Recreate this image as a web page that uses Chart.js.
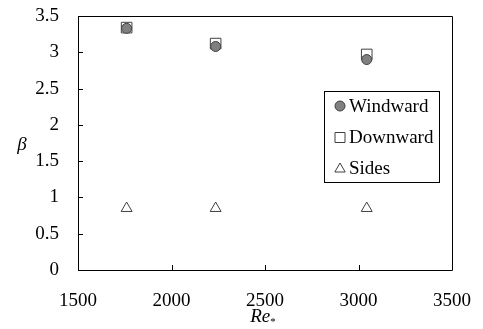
<!DOCTYPE html>
<html><head><meta charset="utf-8">
<script src="https://cdn.jsdelivr.net/npm/chart.js@4/dist/chart.umd.min.js"></script>
<style>html,body{margin:0;padding:0;background:#fff}#wrap{width:483px;height:329px}</style>
</head><body><div id="wrap"><canvas id="c" width="483" height="329"></canvas></div>
<script>
const reValues = [1760, 2236, 3044];
const windward = [3.33, 3.08, 2.90];
const downward = [3.34, 3.12, 2.97];
const sides = [0.85, 0.85, 0.85];
const seriesNames = ['Windward', 'Downward', 'Sides'];
const xTicks = [1500, 2000, 2500, 3000, 3500];
const yTicks = [0, 0.5, 1, 1.5, 2, 2.5, 3, 3.5];
const xTitle = 'Re';
const xTitleSub = '*';
const yTitle = 'β';

const FONT = "'Liberation Serif', 'Times New Roman', serif";
const pts = (ys) => reValues.map((x, i) => ({x: x, y: ys[i]}));

const styles = [
  {pointStyle: 'circle', pointRadius: 5, backgroundColor: '#808080', borderColor: '#404040'},
  {pointStyle: 'rect', pointRadius: 7.5, backgroundColor: '#ffffff', borderColor: '#404040'},
  {pointStyle: 'triangle', pointRadius: 6.3, backgroundColor: '#ffffff', borderColor: '#404040'}
];

const framePlugin = {
  id: 'frame',
  afterDraw(chart) {
    const ctx = chart.ctx, a = chart.chartArea;
    const xs = chart.scales.x, ys = chart.scales.y;
    ctx.save();
    ctx.strokeStyle = '#000';
    ctx.lineWidth = 1;
    ctx.beginPath();
    ctx.rect(Math.round(a.left) + 0.5, Math.round(a.top) + 0.5, Math.round(a.right - a.left), Math.round(a.bottom - a.top));
    ctx.stroke();
    ctx.beginPath();
    yTicks.forEach(v => {
      const py = Math.round(ys.getPixelForValue(v)) + 0.5;
      ctx.moveTo(a.left, py); ctx.lineTo(a.left + 5, py);
    });
    xTicks.forEach(v => {
      const px = Math.round(xs.getPixelForValue(v)) + 0.5;
      ctx.moveTo(px, a.bottom); ctx.lineTo(px, a.bottom - 5);
    });
    ctx.stroke();
    ctx.fillStyle = '#000';
    ctx.textBaseline = 'middle';
    ctx.textAlign = 'center';
    ctx.font = 'italic 19px ' + FONT;
    ctx.fillText(yTitle, 22, (a.top + a.bottom) / 2 + 2);
    const cx = (a.left + a.right) / 2;
    const w1 = ctx.measureText(xTitle).width;
    ctx.font = '11px ' + FONT;
    const w2 = ctx.measureText(xTitleSub).width;
    const startX = cx - (w1 + w2) / 2 - 2;
    ctx.textAlign = 'left';
    ctx.font = 'italic 19px ' + FONT;
    ctx.fillText(xTitle, startX, 317);
    ctx.font = '11px ' + FONT;
    ctx.fillText(xTitleSub, startX + w1, 322);
    const lx = 324.5, ly = 91.5, lw = 115, lh = 91;
    ctx.fillStyle = '#fff';
    ctx.fillRect(lx, ly, lw, lh);
    ctx.strokeStyle = '#000';
    ctx.strokeRect(lx, ly, lw, lh);
    const rows = [106, 137.5, 168.5];
    seriesNames.forEach((name, i) => {
      const y = rows[i], mx = 340;
      ctx.strokeStyle = '#404040';
      ctx.lineWidth = 1;
      ctx.beginPath();
      if (i === 0) {
        ctx.arc(mx, y, 5, 0, Math.PI * 2);
        ctx.fillStyle = '#808080';
      } else if (i === 1) {
        ctx.rect(mx - 5, y - 5, 10, 10);
        ctx.fillStyle = '#fff';
      } else {
        ctx.moveTo(mx, y - 5.5);
        ctx.lineTo(mx + 5.2, y + 3.5);
        ctx.lineTo(mx - 5.2, y + 3.5);
        ctx.closePath();
        ctx.fillStyle = '#fff';
      }
      ctx.fill(); ctx.stroke();
      ctx.fillStyle = '#000';
      ctx.font = '19px ' + FONT;
      ctx.textAlign = 'left';
      ctx.textBaseline = 'middle';
      ctx.fillText(name, 349, y + 1);
    });
    ctx.restore();
  }
};

new Chart(document.getElementById('c'), {
  type: 'scatter',
  data: {
    datasets: [
      Object.assign({label: seriesNames[0], data: pts(windward)}, styles[0]),
      Object.assign({label: seriesNames[1], data: pts(downward)}, styles[1]),
      Object.assign({label: seriesNames[2], data: pts(sides)}, styles[2])
    ].map(d => Object.assign(d, {borderWidth: 1, pointHoverRadius: d.pointRadius, clip: false}))
  },
  options: {
    responsive: false,
    animation: false,
    devicePixelRatio: 1,
    layout: {padding: {left: 0, top: 16, right: 31, bottom: 0}},
    plugins: {legend: {display: false}, tooltip: {enabled: false}},
    scales: {
      x: {
        type: 'linear', min: 1500, max: 3500,
        afterBuildTicks: s => { s.ticks = xTicks.map(v => ({value: v})); },
        afterFit: s => { s.height = 59; s.paddingLeft = 0; s.paddingRight = 0; s.paddingTop = 0; s.paddingBottom = 0; },
        grid: {display: false, drawTicks: false},
        border: {display: false},
        ticks: {color: '#000', font: {family: FONT, size: 19}, padding: 20, maxRotation: 0, callback: v => String(v)}
      },
      y: {
        type: 'linear', min: 0, max: 3.5,
        afterBuildTicks: s => { s.ticks = yTicks.map(v => ({value: v})); },
        afterFit: s => { s.width = 78; s.paddingLeft = 0; s.paddingRight = 0; s.paddingTop = 0; s.paddingBottom = 0; },
        grid: {display: false, drawTicks: false},
        border: {display: false},
        ticks: {color: '#000', font: {family: FONT, size: 19}, padding: 19, callback: v => String(v)}
      }
    }
  },
  plugins: [framePlugin]
});
</script></body></html>
